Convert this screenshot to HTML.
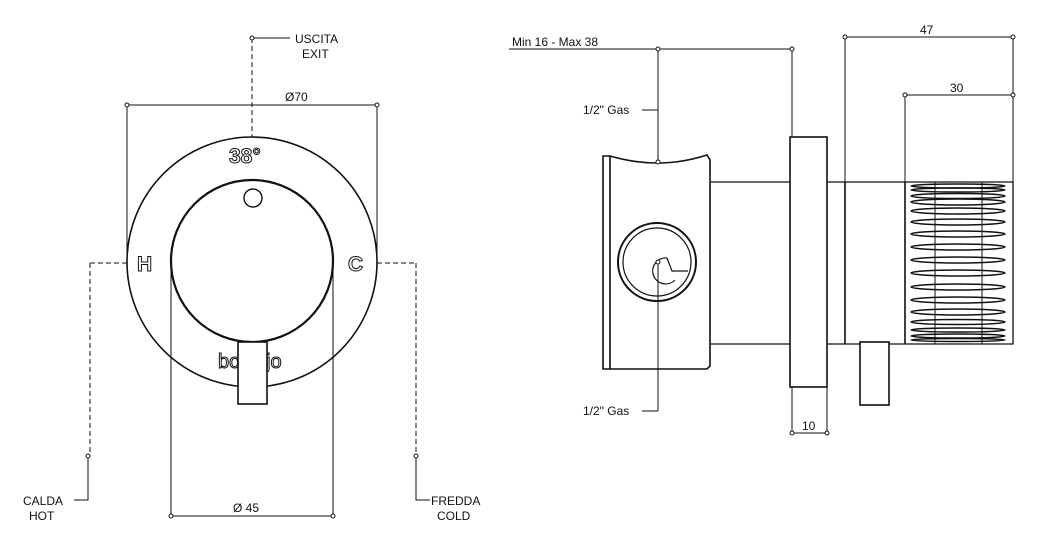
<!DOCTYPE html>
<html><head><meta charset="utf-8"><style>
html,body{margin:0;padding:0;background:#fff}
svg{display:block}
text{font-family:"Liberation Sans",sans-serif}
</style></head><body>
<svg width="1063" height="557" viewBox="0 0 1063 557" xmlns="http://www.w3.org/2000/svg">
<g fill="none" stroke="#111" stroke-width="1">
<!-- LEFT VIEW -->
<path d="M252 38 V137" stroke-dasharray="5,3"/>
<path d="M252 38 H290"/>
<circle cx="252" cy="38" r="2" fill="#fff"/>
<path d="M127 105 H377 M127 105 V262 M377 105 V262"/>
<circle cx="127" cy="105" r="2" fill="#fff"/><circle cx="377" cy="105" r="2" fill="#fff"/>
<circle cx="252" cy="262" r="125" stroke-width="1.6"/>
<circle cx="252" cy="261" r="81" stroke-width="2.2"/>
<circle cx="253" cy="198" r="9" stroke-width="1.4"/>
<path d="M90 263 H127 M90 263 V456 M377 263 H416 M416 263 V456" stroke-dasharray="5,3"/>
<path d="M88 456 V500 H74 M416 456 V500 H430"/>
<circle cx="88" cy="456" r="2" fill="#fff"/><circle cx="416" cy="456" r="2" fill="#fff"/>
<path d="M171 262 V516 M333 262 V516 M171 516 H333"/>
<circle cx="171" cy="516" r="2" fill="#fff"/><circle cx="333" cy="516" r="2" fill="#fff"/>

<!-- RIGHT VIEW -->
<path d="M509 49 H792 M658 49 V162 M792 49 V137"/>
<circle cx="658" cy="49" r="2" fill="#fff"/><circle cx="792" cy="49" r="2" fill="#fff"/>
<path d="M642 110 H658"/>
<path d="M845 37 H1013 M845 37 V182 M1013 37 V182 M905 95 H1013 M905 95 V182"/>
<circle cx="845" cy="37" r="2" fill="#fff"/><circle cx="1013" cy="37" r="2" fill="#fff"/>
<circle cx="905" cy="95" r="2" fill="#fff"/><circle cx="1013" cy="95" r="2" fill="#fff"/>
<!-- body -->
<path d="M603 156 H610 Q634 163 658 163 Q682 163 707 155 L710 160 V366 L707 369 H603 Z" stroke-width="1.6" fill="#fff"/>
<path d="M610 156 V369" stroke-width="1.6"/>
<path d="M711 182 H790 M711 344 H790" stroke-width="1.3"/>
<rect x="790" y="137" width="37" height="250" stroke-width="1.6"/>
<path d="M827 182 H1013 V344 H827" stroke-width="1.3"/>
<path d="M845 182 V344 M905 182 V344" stroke-width="1.6"/>
<rect x="860" y="342" width="29" height="63" fill="#fff" stroke-width="1.6"/>
<path d="M792 387 V433 M827 387 V433 M792 433 H827"/>
<circle cx="792" cy="433" r="2" fill="#fff"/><circle cx="827" cy="433" r="2" fill="#fff"/>
<!-- port -->
<circle cx="657" cy="262" r="39" stroke-width="2"/>
<circle cx="657" cy="262" r="34" stroke-width="1.2"/>
<path d="M667 258 A13 13 0 1 0 675 280 M667 258 L672 271 H688" stroke-width="1.2"/>
<path d="M658 262 V411 M642 411 H658"/>
<circle cx="658" cy="262" r="2" fill="#fff"/><circle cx="658" cy="162" r="2" fill="#fff"/>
<!-- threads -->
<g stroke-width="1.4">
<path d="M935 182 V344 M982 182 V344" stroke-width="1"/>
<ellipse cx="958" cy="186" rx="47" ry="2"/>
<ellipse cx="958" cy="190" rx="47" ry="2"/>
<ellipse cx="958" cy="196" rx="47" ry="2.5"/>
<ellipse cx="958" cy="202" rx="47" ry="3"/>
<ellipse cx="958" cy="211" rx="47" ry="3"/>
<ellipse cx="958" cy="222" rx="47" ry="3"/>
<ellipse cx="958" cy="234" rx="47" ry="3"/>
<ellipse cx="958" cy="247" rx="47" ry="3"/>
<ellipse cx="958" cy="260" rx="47" ry="3"/>
<ellipse cx="958" cy="273" rx="47" ry="3"/>
<ellipse cx="958" cy="287" rx="47" ry="3"/>
<ellipse cx="958" cy="300" rx="47" ry="3"/>
<ellipse cx="958" cy="312" rx="47" ry="3"/>
<ellipse cx="958" cy="322" rx="47" ry="2.5"/>
<ellipse cx="958" cy="330" rx="47" ry="2"/>
<ellipse cx="958" cy="336" rx="47" ry="2"/>
<ellipse cx="958" cy="340" rx="47" ry="1.5"/>
</g>
</g>
<!-- outlined texts -->
<g style="fill:#fff;stroke:#111;stroke-width:1">
<text x="229" y="163" font-size="21" font-weight="bold">38°</text>
<text x="137" y="271" font-size="21" font-weight="bold">H</text>
<text x="348" y="271" font-size="21" font-weight="bold">C</text>
<text x="218" y="368" font-size="20">bo</text>
<text x="266" y="368" font-size="20">jo</text>
</g>
<rect x="238" y="342" width="29" height="62" fill="#fff" stroke="#111" stroke-width="1.6"/>
<g style="fill:#111">
<text x="295" y="43" font-size="12">USCITA</text>
<text x="302" y="58" font-size="12">EXIT</text>
<text x="285" y="101" font-size="12">Ø70</text>
<text x="23" y="505" font-size="12">CALDA</text>
<text x="29" y="520" font-size="12">HOT</text>
<text x="431" y="505" font-size="12">FREDDA</text>
<text x="437" y="520" font-size="12">COLD</text>
<text x="233" y="512" font-size="12">Ø 45</text>
<text x="512" y="46" font-size="12">Min 16 - Max 38</text>
<text x="583" y="114" font-size="12">1/2" Gas</text>
<text x="583" y="415" font-size="12">1/2" Gas</text>
<text x="920" y="34" font-size="12">47</text>
<text x="950" y="92" font-size="12">30</text>
<text x="802" y="430" font-size="12">10</text>
</g>
</svg>
</body></html>
